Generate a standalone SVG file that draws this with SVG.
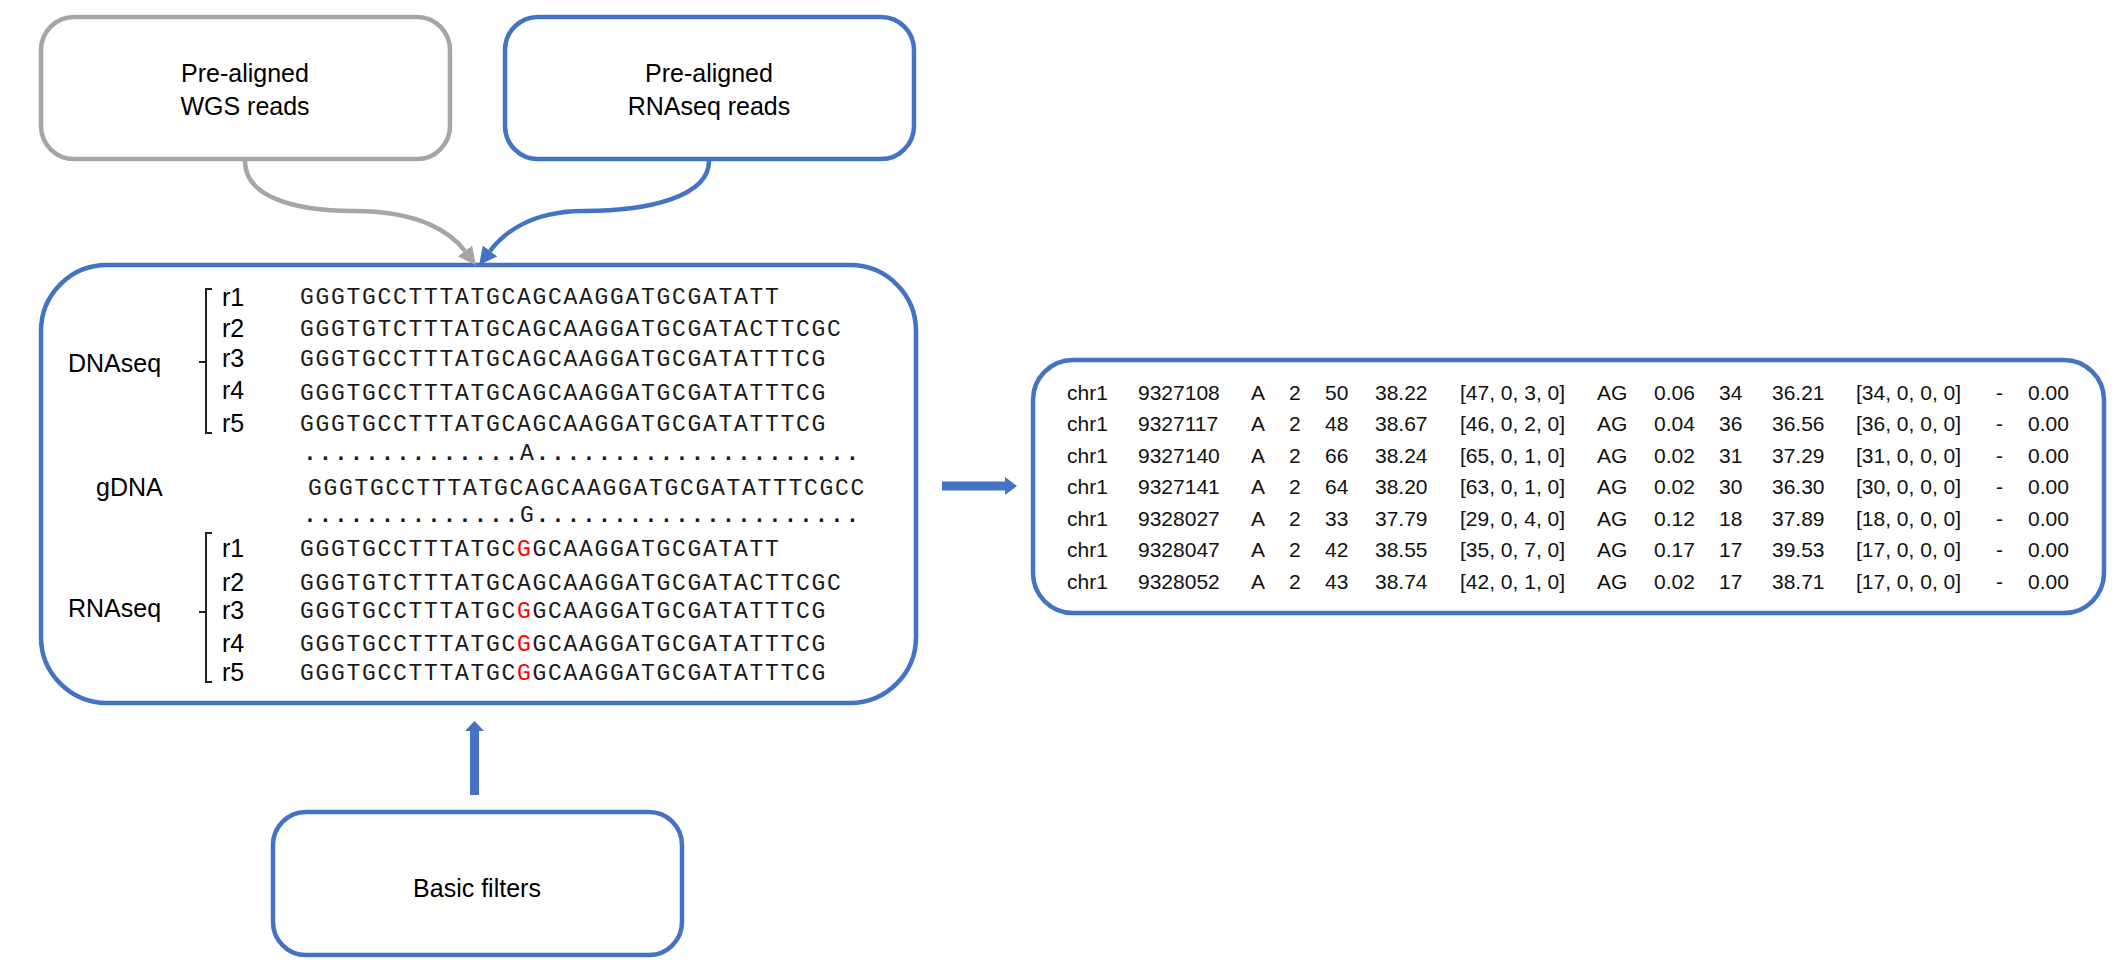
<svg xmlns="http://www.w3.org/2000/svg" width="2128" height="969" viewBox="0 0 2128 969">
  <style>
    .box { fill: #ffffff; stroke-width: 4.5; }
    .blue { stroke: #4472C4; }
    .grey { stroke: #A6A6A6; }
    .lbl { font-family: "Liberation Sans", Arial, sans-serif; font-size: 25px; fill: #000; }
    .mid { text-anchor: middle; }
    .seq { font-family: "Liberation Mono", "Courier New", monospace; font-size: 23px; letter-spacing: 1.7px; fill: #1a1a1a; }
    .dots { font-weight: bold; }
    .plain { font-weight: normal; }
    .mut { fill: #FF0000; }
    .tbl { font-family: "Liberation Sans", Arial, sans-serif; font-size: 21px; fill: #111; }
    .brk { fill: none; stroke: #222; stroke-width: 2; }
    .conn { fill: none; stroke-width: 4.5; }
  </style>
  <defs>
    <marker id="headGrey" viewBox="0 0 10 10" refX="0" refY="5" markerWidth="18" markerHeight="18" markerUnits="userSpaceOnUse" orient="auto">
      <path d="M0,0 L10,5 L0,10 z" fill="#A6A6A6"/>
    </marker>
    <marker id="headBlue" viewBox="0 0 10 10" refX="0" refY="5" markerWidth="18" markerHeight="18" markerUnits="userSpaceOnUse" orient="auto">
      <path d="M0,0 L10,5 L0,10 z" fill="#4472C4"/>
    </marker>
  </defs>

  <rect width="2128" height="969" fill="#ffffff"/>

  <!-- input: WGS reads -->
  <g id="wgs">
    <rect class="box grey" x="41" y="17" width="409" height="142" rx="33"/>
    <text class="lbl mid" x="245" y="82">Pre-aligned</text>
    <text class="lbl mid" x="245" y="115">WGS reads</text>
  </g>

  <!-- input: RNAseq reads -->
  <g id="rnaseq">
    <rect class="box blue" x="505" y="17" width="409" height="142" rx="33"/>
    <text class="lbl mid" x="709" y="82">Pre-aligned</text>
    <text class="lbl mid" x="709" y="115">RNAseq reads</text>
  </g>

  <!-- pileup comparison of DNA and RNA reads against the genome -->
  <g id="pileup">
    <rect class="box blue" x="41" y="265" width="875" height="438" rx="66"/>

    <text class="lbl" x="68" y="372">DNAseq</text>
    <path class="brk" d="M212,289 H206 V433 H212 M206,362 H199"/>
    <text class="lbl" x="222" y="306">r1</text>
    <text class="lbl" x="222" y="337">r2</text>
    <text class="lbl" x="222" y="367">r3</text>
    <text class="lbl" x="222" y="399">r4</text>
    <text class="lbl" x="222" y="432">r5</text>
    <text class="seq" x="300" y="304">GGGTGCCTTTATGCAGCAAGGATGCGATATT</text>
    <text class="seq" x="300" y="336">GGGTGTCTTTATGCAGCAAGGATGCGATACTTCGC</text>
    <text class="seq" x="300" y="366">GGGTGCCTTTATGCAGCAAGGATGCGATATTTCG</text>
    <text class="seq" x="300" y="400">GGGTGCCTTTATGCAGCAAGGATGCGATATTTCG</text>
    <text class="seq" x="300" y="431">GGGTGCCTTTATGCAGCAAGGATGCGATATTTCG</text>

    <text class="seq dots" x="303" y="460">..............<tspan class="plain">A</tspan>.....................</text>
    <text class="lbl" x="96" y="496">gDNA</text>
    <text class="seq" x="308" y="495">GGGTGCCTTTATGCAGCAAGGATGCGATATTTCGCC</text>
    <text class="seq dots" x="303" y="522">..............<tspan class="plain">G</tspan>.....................</text>

    <text class="lbl" x="68" y="617">RNAseq</text>
    <path class="brk" d="M212,533 H206 V682 H212 M206,612 H199"/>
    <text class="lbl" x="222" y="557">r1</text>
    <text class="lbl" x="222" y="591">r2</text>
    <text class="lbl" x="222" y="619">r3</text>
    <text class="lbl" x="222" y="652">r4</text>
    <text class="lbl" x="222" y="681">r5</text>
    <text class="seq" x="300" y="556">GGGTGCCTTTATGC<tspan class="mut">G</tspan>GCAAGGATGCGATATT</text>
    <text class="seq" x="300" y="590">GGGTGTCTTTATGCAGCAAGGATGCGATACTTCGC</text>
    <text class="seq" x="300" y="618">GGGTGCCTTTATGC<tspan class="mut">G</tspan>GCAAGGATGCGATATTTCG</text>
    <text class="seq" x="300" y="651">GGGTGCCTTTATGC<tspan class="mut">G</tspan>GCAAGGATGCGATATTTCG</text>
    <text class="seq" x="300" y="680">GGGTGCCTTTATGC<tspan class="mut">G</tspan>GCAAGGATGCGATATTTCG</text>
  </g>

  <!-- filter step -->
  <g id="filters">
    <rect class="box blue" x="273" y="812" width="409" height="143" rx="33"/>
    <text class="lbl mid" x="477" y="897">Basic filters</text>
  </g>

  <!-- output table of candidate editing sites -->
  <g id="results">
    <rect class="box blue" x="1033" y="360" width="1071" height="253" rx="40"/>
    <g class="tbl">
      <text y="400"><tspan x="1067">chr1</tspan><tspan x="1138">9327108</tspan><tspan x="1251">A</tspan><tspan x="1289">2</tspan><tspan x="1325">50</tspan><tspan x="1375">38.22</tspan><tspan x="1460">[47, 0, 3, 0]</tspan><tspan x="1597">AG</tspan><tspan x="1654">0.06</tspan><tspan x="1719">34</tspan><tspan x="1772">36.21</tspan><tspan x="1856">[34, 0, 0, 0]</tspan><tspan x="1996">-</tspan><tspan x="2028">0.00</tspan></text>
      <text y="431"><tspan x="1067">chr1</tspan><tspan x="1138">9327117</tspan><tspan x="1251">A</tspan><tspan x="1289">2</tspan><tspan x="1325">48</tspan><tspan x="1375">38.67</tspan><tspan x="1460">[46, 0, 2, 0]</tspan><tspan x="1597">AG</tspan><tspan x="1654">0.04</tspan><tspan x="1719">36</tspan><tspan x="1772">36.56</tspan><tspan x="1856">[36, 0, 0, 0]</tspan><tspan x="1996">-</tspan><tspan x="2028">0.00</tspan></text>
      <text y="463"><tspan x="1067">chr1</tspan><tspan x="1138">9327140</tspan><tspan x="1251">A</tspan><tspan x="1289">2</tspan><tspan x="1325">66</tspan><tspan x="1375">38.24</tspan><tspan x="1460">[65, 0, 1, 0]</tspan><tspan x="1597">AG</tspan><tspan x="1654">0.02</tspan><tspan x="1719">31</tspan><tspan x="1772">37.29</tspan><tspan x="1856">[31, 0, 0, 0]</tspan><tspan x="1996">-</tspan><tspan x="2028">0.00</tspan></text>
      <text y="494"><tspan x="1067">chr1</tspan><tspan x="1138">9327141</tspan><tspan x="1251">A</tspan><tspan x="1289">2</tspan><tspan x="1325">64</tspan><tspan x="1375">38.20</tspan><tspan x="1460">[63, 0, 1, 0]</tspan><tspan x="1597">AG</tspan><tspan x="1654">0.02</tspan><tspan x="1719">30</tspan><tspan x="1772">36.30</tspan><tspan x="1856">[30, 0, 0, 0]</tspan><tspan x="1996">-</tspan><tspan x="2028">0.00</tspan></text>
      <text y="526"><tspan x="1067">chr1</tspan><tspan x="1138">9328027</tspan><tspan x="1251">A</tspan><tspan x="1289">2</tspan><tspan x="1325">33</tspan><tspan x="1375">37.79</tspan><tspan x="1460">[29, 0, 4, 0]</tspan><tspan x="1597">AG</tspan><tspan x="1654">0.12</tspan><tspan x="1719">18</tspan><tspan x="1772">37.89</tspan><tspan x="1856">[18, 0, 0, 0]</tspan><tspan x="1996">-</tspan><tspan x="2028">0.00</tspan></text>
      <text y="557"><tspan x="1067">chr1</tspan><tspan x="1138">9328047</tspan><tspan x="1251">A</tspan><tspan x="1289">2</tspan><tspan x="1325">42</tspan><tspan x="1375">38.55</tspan><tspan x="1460">[35, 0, 7, 0]</tspan><tspan x="1597">AG</tspan><tspan x="1654">0.17</tspan><tspan x="1719">17</tspan><tspan x="1772">39.53</tspan><tspan x="1856">[17, 0, 0, 0]</tspan><tspan x="1996">-</tspan><tspan x="2028">0.00</tspan></text>
      <text y="589"><tspan x="1067">chr1</tspan><tspan x="1138">9328052</tspan><tspan x="1251">A</tspan><tspan x="1289">2</tspan><tspan x="1325">43</tspan><tspan x="1375">38.74</tspan><tspan x="1460">[42, 0, 1, 0]</tspan><tspan x="1597">AG</tspan><tspan x="1654">0.02</tspan><tspan x="1719">17</tspan><tspan x="1772">38.71</tspan><tspan x="1856">[17, 0, 0, 0]</tspan><tspan x="1996">-</tspan><tspan x="2028">0.00</tspan></text>
    </g>
  </g>

  <!-- connectors -->
  <g id="connectors">
    <path class="conn grey" d="M245,161 C245,196 292,211 354,211 C422,211 452,234 465,251" marker-end="url(#headGrey)"/>
    <path class="conn blue" d="M709,161 C709,196 650,211 584,211 C530,211 503,234 490,251" marker-end="url(#headBlue)"/>
    <!-- filters feed up into the pileup -->
    <path d="M470,795 V731 H465 L474.5,721 L484,731 H479 V795 z" fill="#4472C4"/>
    <!-- pileup to output table -->
    <path d="M942,481.5 H1005 V477 L1017,486 L1005,495 V490.5 H942 z" fill="#4472C4"/>
  </g>
</svg>
